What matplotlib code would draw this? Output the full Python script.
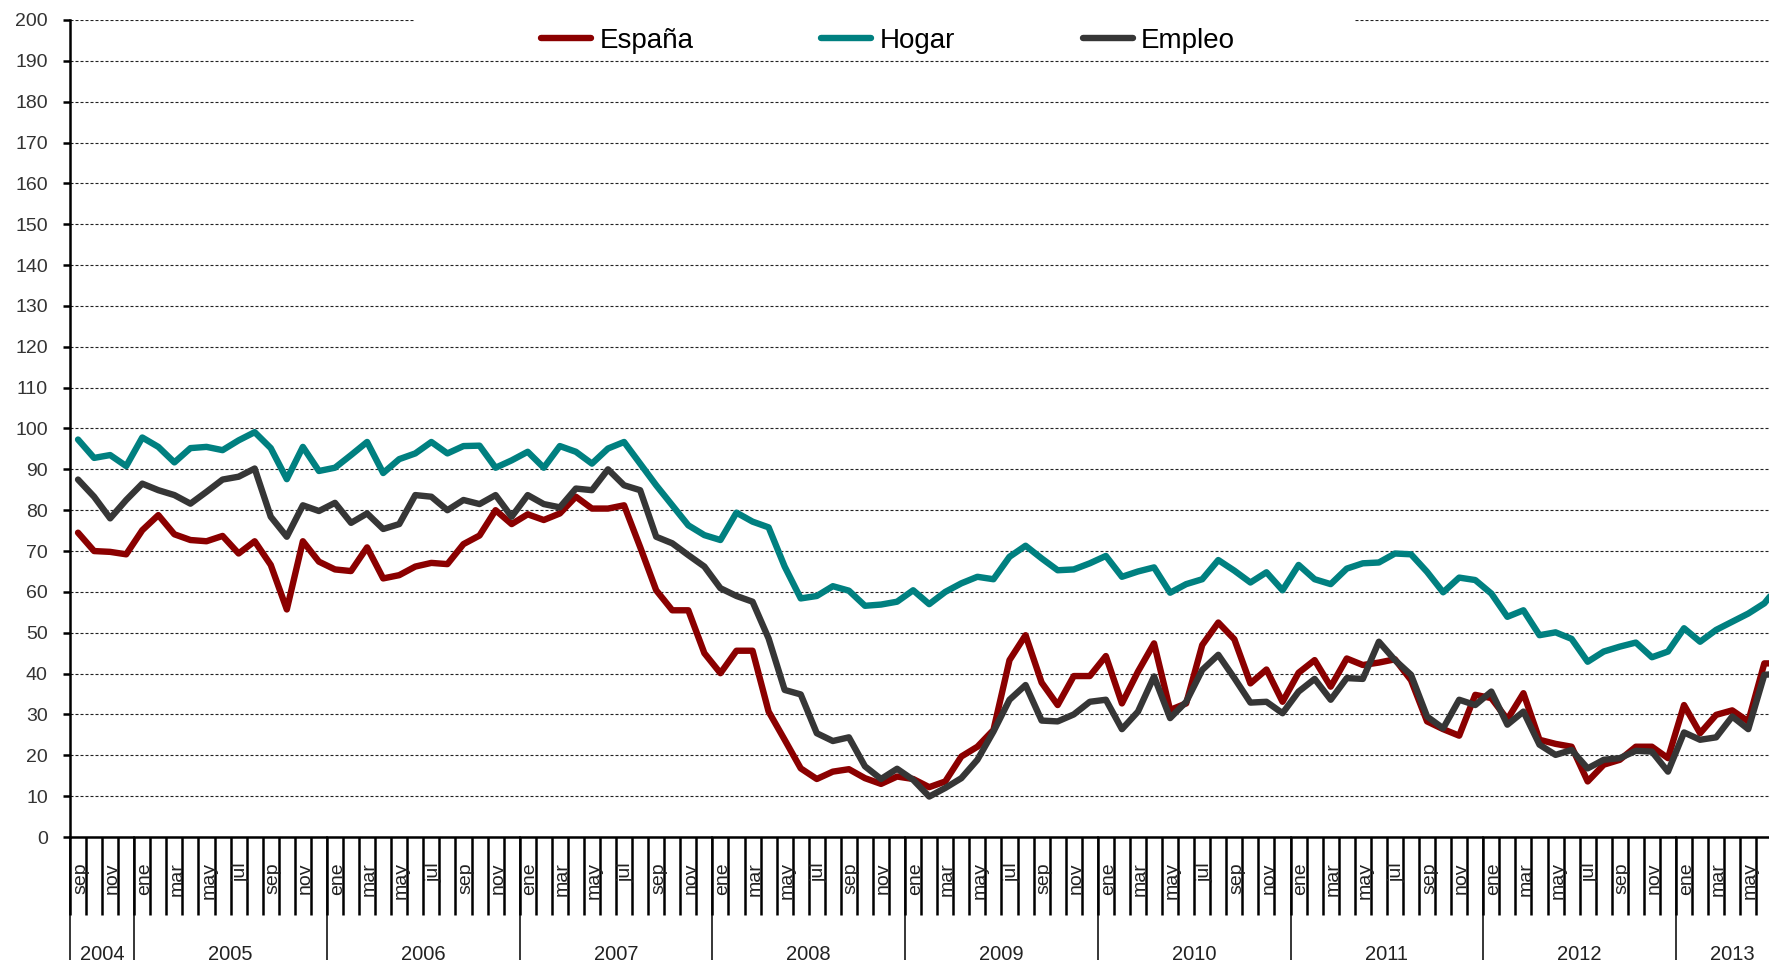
import numpy as np
import matplotlib
matplotlib.use("Agg")
from matplotlib import pyplot as plt
from matplotlib.patches import Rectangle
from matplotlib.lines import Line2D

plt.rcParams['font.family'] = ['Liberation Sans', 'DejaVu Sans']

# meses de sep 2004 a jul 2013
meses_nombres = ["ene", "feb", "mar", "abr", "may", "jun",
                 "jul", "ago", "sep", "oct", "nov", "dic"]
anio_inicio, mes_inicio = 2004, 9
n_meses = 107

espana = [74.5, 70.0, 69.8, 69.2, 75.1, 78.8, 74.1, 72.7, 72.4, 73.7, 69.4, 72.4,
          66.6, 55.7, 72.4, 67.4, 65.5, 65.1, 70.9, 63.3, 64.1, 66.2, 67.1, 66.8,
          71.7, 73.8, 80.0, 76.6, 79.0, 77.6, 79.2, 83.3, 80.4, 80.4, 81.2, 71.0,
          60.4, 55.5, 55.5, 45.0, 40.1, 45.6, 45.6, 30.7, 23.8, 16.8, 14.2, 16.0,
          16.6, 14.4, 13.0, 14.8, 14.2, 12.2, 13.6, 19.7, 22.1, 26.2, 43.3, 49.4,
          37.8, 32.3, 39.4, 39.4, 44.3, 32.7, 40.5, 47.4, 31.1, 32.7, 47.0, 52.5,
          48.4, 37.6, 41.0, 33.1, 40.2, 43.3, 36.8, 43.7, 42.1, 42.7, 43.5, 38.4,
          28.3, 26.4, 24.8, 34.8, 34.0, 28.8, 35.2, 23.8, 22.8, 22.1, 13.6, 17.7,
          18.9, 22.1, 22.1, 19.3, 32.3, 25.4, 29.9, 31.0, 28.3, 42.5, 42.5]

hogar = [97.3, 92.8, 93.5, 90.8, 97.8, 95.5, 91.7, 95.2, 95.5, 94.7, 97.1, 99.1,
         95.2, 87.6, 95.5, 89.6, 90.4, 93.5, 96.7, 89.1, 92.5, 93.9, 96.7, 93.9,
         95.7, 95.8, 90.4, 92.2, 94.3, 90.4, 95.7, 94.3, 91.4, 95.1, 96.7, 91.4,
         86.1, 81.2, 76.3, 73.9, 72.7, 79.4, 77.2, 75.8, 66.2, 58.4, 59.0, 61.4,
         60.3, 56.6, 56.9, 57.6, 60.4, 57.0, 60.0, 62.1, 63.7, 63.1, 68.6, 71.3,
         68.2, 65.3, 65.5, 67.0, 68.8, 63.7, 65.0, 66.0, 59.8, 61.9, 63.1, 67.8,
         65.2, 62.3, 64.8, 60.4, 66.6, 63.1, 61.9, 65.7, 67.0, 67.2, 69.4, 69.2,
         64.9, 59.9, 63.5, 62.9, 59.6, 53.9, 55.5, 49.4, 50.1, 48.5, 42.9, 45.4,
         46.6, 47.6, 44.0, 45.4, 51.1, 47.8, 50.7, 52.7, 54.7, 57.2, 62.0]

empleo = [87.5, 83.3, 78.0, 82.5, 86.5, 84.9, 83.7, 81.6, 84.5, 87.5, 88.2, 90.2,
          78.4, 73.5, 81.2, 79.8, 81.8, 76.9, 79.2, 75.4, 76.6, 83.7, 83.3, 80.0,
          82.5, 81.5, 83.7, 78.4, 83.7, 81.5, 80.7, 85.3, 84.9, 90.0, 86.1, 84.9,
          73.5, 71.9, 69.0, 66.2, 60.9, 59.0, 57.6, 48.6, 36.0, 34.9, 25.4, 23.5,
          24.4, 17.3, 14.2, 16.7, 14.0, 9.9, 12.0, 14.4, 18.9, 25.8, 33.6, 37.2,
          28.5, 28.3, 30.0, 33.1, 33.6, 26.4, 30.7, 39.3, 29.1, 33.1, 40.9, 44.6,
          38.9, 32.9, 33.1, 30.3, 35.6, 38.7, 33.6, 38.9, 38.7, 47.8, 43.3, 39.7,
          29.5, 26.6, 33.6, 32.3, 35.6, 27.5, 30.7, 22.6, 20.1, 21.3, 16.8, 18.9,
          19.3, 21.1, 20.9, 16.0, 25.6, 23.8, 24.4, 29.5, 26.4, 39.7, 40.0]

series = [("España", espana, "#8b0000"),
          ("Hogar", hogar, "#008080"),
          ("Empleo", empleo, "#363636")]

# etiquetas de categoria
mes_idx = [(mes_inicio - 1 + k) % 12 for k in range(n_meses)]
anio_de = [anio_inicio + (mes_inicio - 1 + k) // 12 for k in range(n_meses)]

W, H = 1769, 960
fig = plt.figure(figsize=(W / 100, H / 100), dpi=100)
ax = fig.add_axes([70 / W, 123 / H, 1 - 70 / W, 817 / H])

x = np.arange(len(espana))
for nombre, valores, color in series:
    ax.plot(x, valores, color=color, lw=4.6, solid_joinstyle="round",
            solid_capstyle="round", label=nombre, zorder=3)

ax.set_xlim(-0.5, -0.5 + (W - 70) / 16.06)
ax.set_ylim(0, 200)
ax.set_yticks(np.arange(0, 201, 10))
ax.set_xticks([])
ax.yaxis.grid(True, linestyle=(0, (2.7, 1.8)), color="#222222", lw=0.8)
for lado in ["top", "right"]:
    ax.spines[lado].set_visible(False)
ax.spines["left"].set_linewidth(1.8)
ax.spines["bottom"].set_linewidth(1.8)
ax.tick_params(axis="y", direction="out", length=5, width=1.8, pad=11,
               labelsize=14, labelcolor="#333333")

trans = ax.get_xaxis_transform()
alto_px = 817
# separadores de meses
for k in range(n_meses + 1):
    ax.plot([k - 0.5, k - 0.5], [0, -78 / alto_px], color="black", lw=1.8,
            transform=trans, clip_on=False, solid_capstyle="butt")
# separadores de años
for k in range(n_meses):
    if k == 0 or mes_idx[k] == 0:
        ax.plot([k - 0.5, k - 0.5], [0, -0.2], color="black", lw=1.1,
                transform=trans, clip_on=False)

# etiquetas de meses (uno de cada dos)
for k in range(0, n_meses, 2):
    ax.text(k + 0.15, -25 / alto_px, meses_nombres[mes_idx[k]], rotation=90,
            ha="center", va="top", fontsize=14, color="#222222", transform=trans)

# etiquetas de años
for anio in sorted(set(anio_de)):
    ks = [k for k in range(n_meses) if anio_de[k] == anio]
    centro = (ks[0] + ks[-1]) / 2
    ax.text(centro, -108 / alto_px, str(anio), ha="center", va="top",
            fontsize=14.5, color="#222222", transform=trans)

# fondo blanco de la leyenda
fig.add_artist(Rectangle((415 / W, 1 - 60 / H), (1354 - 415) / W, 54 / H,
                         transform=fig.transFigure, facecolor="white",
                         edgecolor="none", zorder=2))
handles = [Line2D([], [], color=c, lw=4.6, solid_capstyle="round") for _, _, c in series]
fig.legend(handles, [n for n, _, _ in series], loc="center",
           bbox_to_anchor=(0.502, 1 - 41 / H), ncol=3, frameon=False, fontsize=20,
           handlelength=1.8, handletextpad=0.3, columnspacing=4.6)

fig.savefig("out.png", dpi=100)
